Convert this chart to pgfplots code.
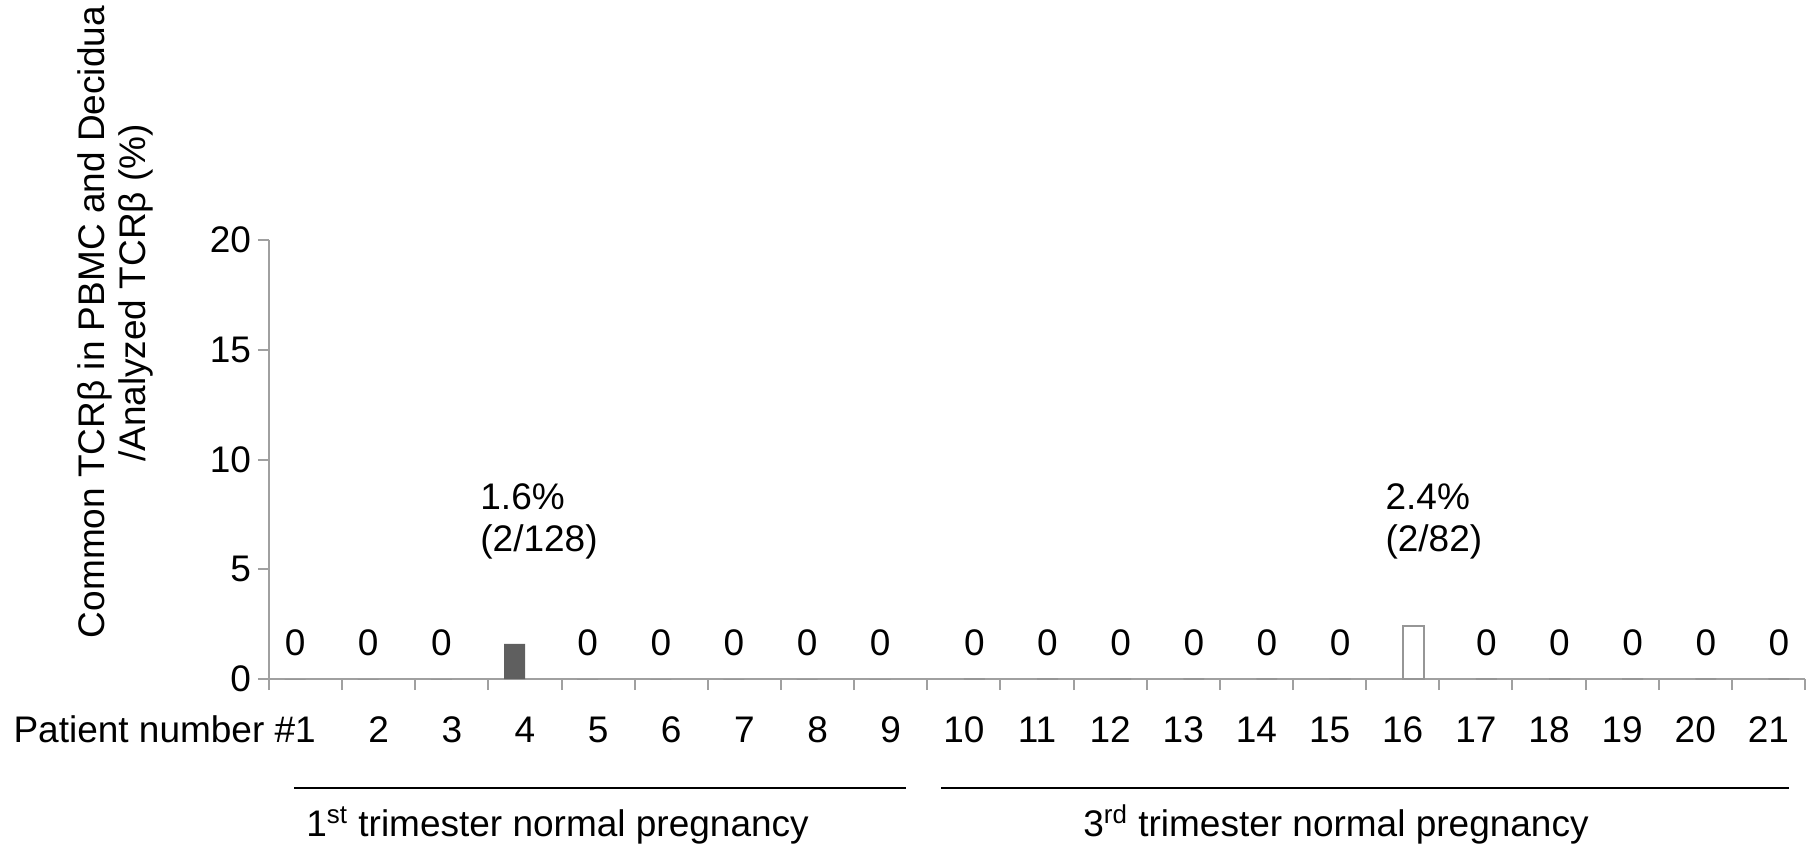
\documentclass[border=0pt]{standalone}
\usepackage{fontspec}
\setmainfont{Liberation Sans}
\usepackage{pgfplots}
\pgfplotsset{compat=1.18}
\definecolor{axgray}{RGB}{160,160,160}
\definecolor{bardark}{RGB}{95,95,95}
\definecolor{barline}{RGB}{150,150,150}
\newcommand\cf{\fontsize{18.5pt}{20.5pt}\selectfont}
\begin{document}
\begin{tikzpicture}[font=\cf]
\useasboundingbox (-134.5pt,-84pt) rectangle (775.5pt,339.5pt);
\begin{axis}[
  at={(0,0)}, anchor=south west,
  scale only axis, width=768pt, height=219.5pt,
  xmin=0.5, xmax=21.5, ymin=0, ymax=20,
  enlargelimits=false,
  axis x line*=bottom, axis y line*=left,
  axis line style={axgray, line width=1pt},
  tick style={axgray, line width=1pt},
  tick align=outside, major tick length=5.5pt,
  ytick={0,5,10,15,20},
  xtick={0.5,1.5,...,21.5}, xticklabels={},
  extra x ticks={1,2,...,21},
  extra x tick labels={\llap{Patient number \#}1,2,3,4,5,6,7,8,9,10,11,12,13,14,15,16,17,18,19,20,21},
  extra x tick style={major tick length=0pt, xticklabel style={anchor=base, yshift=-31.5pt}},
  ticklabel style={font=\cf, text=black},
  /pgf/number format/assume math mode=true,
  ybar=0pt, bar width=10.5pt,
  point meta=explicit symbolic,
  nodes near coords={\pgfplotspointmeta},
  every node near coord/.append style={anchor=base, yshift=12pt, font=\cf, text=black},
]
\addplot[fill=bardark, draw=none] coordinates {
  (1,0) [0] (2,0) [0] (3,0) [0] (4,1.6) [{}] (5,0) [0] (6,0) [0] (7,0) [0] (8,0) [0] (9,0) [0]
};
\addplot[fill=white, draw=barline, line width=1pt] coordinates {
  (10,0) [0] (11,0) [0] (12,0) [0] (13,0) [0] (14,0) [0] (15,0) [0] (16,2.4) [{}] (17,0) [0] (18,0) [0] (19,0) [0] (20,0) [0] (21,0) [0]
};
\node[anchor=base west, inner sep=0] at (axis cs:3.385,7.70) {1.6\%};
\node[anchor=base west, inner sep=0] at (axis cs:3.385,5.79) {(2/128)};
\node[anchor=base west, inner sep=0] at (axis cs:15.76,7.70) {2.4\%};
\node[anchor=base west, inner sep=0] at (axis cs:15.76,5.79) {(2/82)};
\end{axis}
\draw[line width=1pt] (12.5pt,-54.5pt) -- (318.5pt,-54.5pt);
\draw[line width=1pt] (336pt,-54.5pt) -- (760pt,-54.5pt);
\node[anchor=base west, inner sep=0] at (18.5pt,-78.5pt) {1\textsuperscript{st} trimester normal pregnancy};
\node[anchor=base west, inner sep=0] at (407pt,-78.5pt) {3\textsuperscript{rd} trimester normal pregnancy};
\node[rotate=90, anchor=base, inner sep=0] at (-82pt,178.5pt) {Common TCRβ in PBMC and Decidua};
\node[rotate=90, anchor=base, inner sep=0] at (-61.5pt,193pt) {/Analyzed TCRβ (\%)};
\end{tikzpicture}
\end{document}
